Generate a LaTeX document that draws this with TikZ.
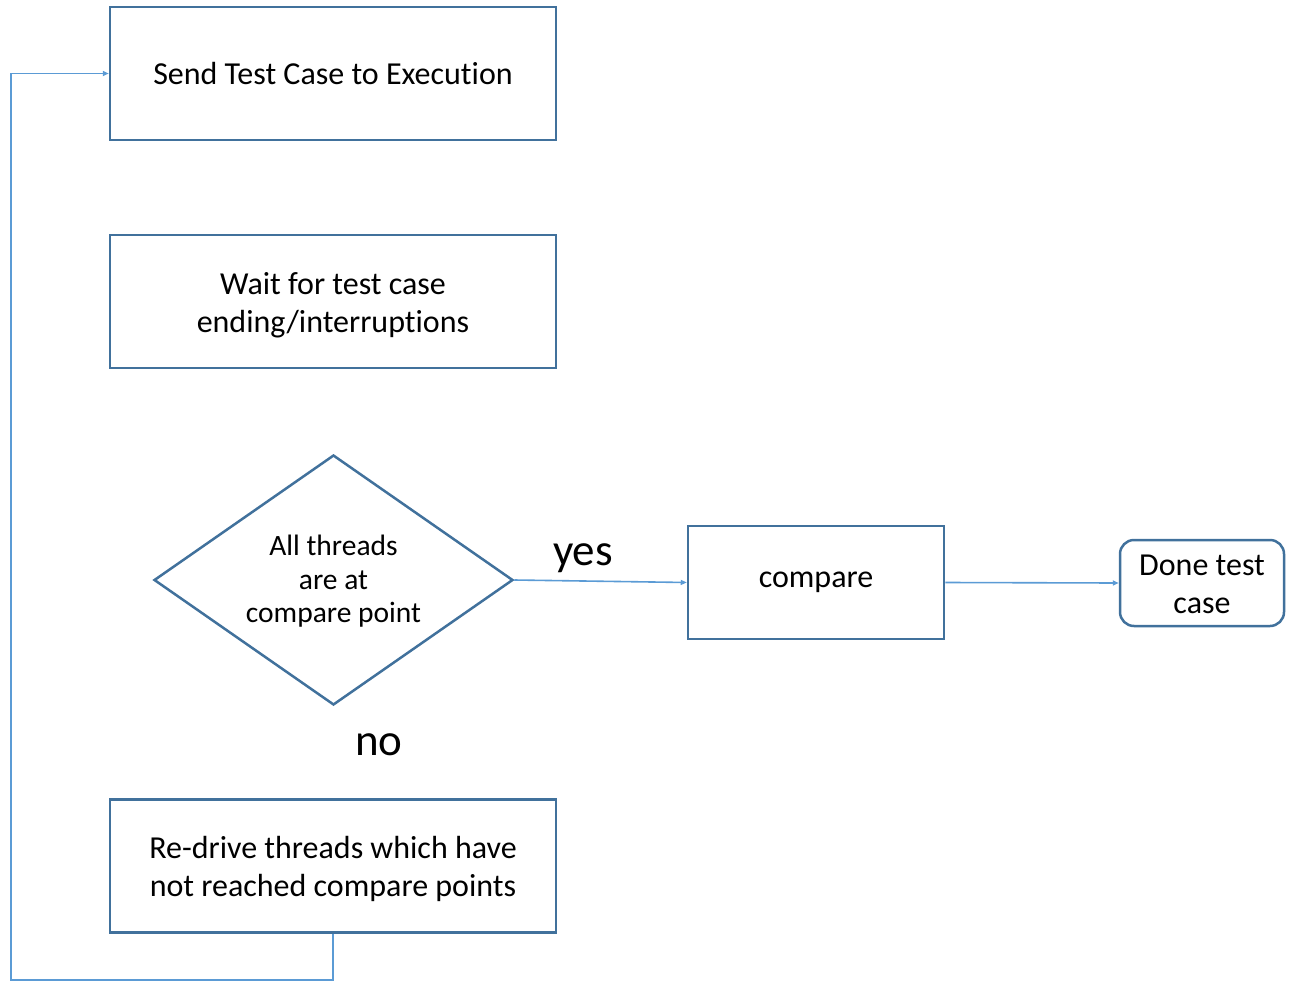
\documentclass[tikz,border=0pt]{standalone}
\usepackage{fontspec}
\setmainfont{Carlito}[Ligatures=NoCommon]
\usetikzlibrary{shapes.geometric,arrows.meta}
\definecolor{boxline}{HTML}{41719C}
\definecolor{flowline}{HTML}{5B9BD5}
% centred lines of text; #1 = extra room above, which lowers the block
\newcommand\textstack[2]{\raisebox{0pt}[\dimexpr\height+#1\relax][\depth]{\begin{tabular}{@{}c@{}}#2\end{tabular}}}
\tikzset{
  procbox/.style={draw=boxline, line width=2.5pt, minimum width=446pt, minimum height=133pt,
    inner sep=0pt, font=\fontsize{32pt}{38pt}\selectfont},
  decbox/.style={draw=boxline, line width=2.5pt, shape=diamond, aspect=1.44,
    minimum width=359pt, minimum height=250pt, inner sep=0pt,
    font=\fontsize{29.5pt}{33.5pt}\selectfont},
  termbox/.style={draw=boxline, line width=2.5pt, rounded corners=14pt,
    minimum width=164pt, minimum height=86pt, inner sep=0pt,
    font=\fontsize{32pt}{38pt}\selectfont},
  flow/.style={draw=flowline, line width=1.6pt, -{Triangle[length=6pt,width=5pt]}},
  branchlabel/.style={font=\fontsize{45pt}{54pt}\selectfont, anchor=base, inner sep=0pt}
}
\begin{document}
\begin{tikzpicture}[x=1pt, y=-1pt]
  \useasboundingbox (0,0) rectangle (1294,988);

  % process steps
  \node[procbox] (send) at (333,73.5) {Send Test Case to Execution};
  \node[procbox] (wait) at (333,301.5) {\textstack{8pt}{Wait for test case\\ending/interruptions}};
  \node[decbox] (check) at (333.5,580) {\textstack{5pt}{All threads\\are at\\compare point}};
  \node[procbox, minimum width=256pt, minimum height=113pt] (cmp) at (816,582.5) {compare};
  \node[termbox] (done) at (1202,583) {\textstack{8pt}{Done test\\case}};
  \node[procbox] (redrive) at (333,866) {\textstack{7pt}{Re-drive threads which have\\not reached compare points}};

  % branch labels
  \node[branchlabel] (yes) at (583,565) {yes};
  \node[branchlabel] (no) at (379,755) {no};

  % connectors
  \coordinate (loopcorner) at (11,980);
  \draw[flow] (check.east) -- (cmp.west);
  \draw[flow] (cmp.east) -- (done.west);
  \draw[flow] (redrive.south) |- (loopcorner) |- (send.west);
\end{tikzpicture}
\end{document}
